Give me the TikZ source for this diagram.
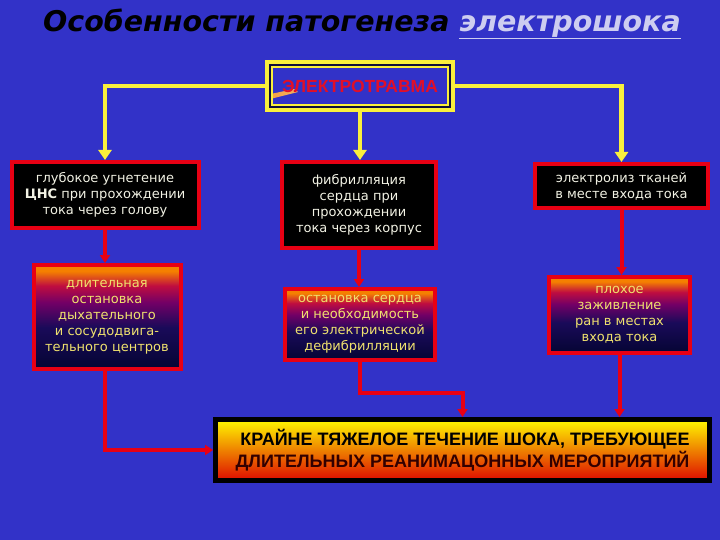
\documentclass[tikz,border=0pt]{standalone}
\usepackage{fontspec}
\setmainfont{DejaVu Sans}
\newfontfamily\headfont{Liberation Sans}
\usetikzlibrary{calc,arrows.meta}
\definecolor{bgblue}{RGB}{50,50,200}
\definecolor{boxred}{RGB}{232,0,20}
\definecolor{lineyellow}{RGB}{250,240,60}
\definecolor{palewhite}{RGB}{242,242,228}
\definecolor{paleyellow}{RGB}{240,226,110}
\definecolor{lavender}{RGB}{205,205,240}
\definecolor{shockred}{RGB}{222,10,0}
\definecolor{darkred}{RGB}{50,0,0}
\pgfdeclareverticalshading{sunset}{100bp}{rgb(0bp)=(0.02,0.02,0.2); rgb(25bp)=(0.02,0.02,0.2); rgb(45bp)=(0.1,0.04,0.35); rgb(57bp)=(0.45,0,0.4); rgb(65bp)=(0.75,0.05,0.25); rgb(72bp)=(0.96,0.5,0); rgb(100bp)=(0.96,0.55,0)}

\begin{document}
\begin{tikzpicture}[x=1pt,y=-1pt,
	darkbox/.style={draw=boxred,line width=4pt,fill=black,text=palewhite,align=center,inner sep=0pt,font=\fontsize{13}{16}\selectfont},
	gradbox/.style={draw=boxred,line width=4pt,shading=sunset,text=paleyellow,align=center,inner sep=0pt,font=\fontsize{13}{16}\selectfont},
	ylink/.style={draw=lineyellow,line width=4.5pt,-{Triangle[width=13pt,length=10pt]}},
	rlink/.style={draw=boxred,line width=4pt,-{Triangle[width=10pt,length=8pt]}}]
		%%%%% START %%%%%
		\fill[bgblue] (0,0) rectangle (720,540);
		
		\node[font=\fontsize{28.5}{32}\selectfont\bfseries\itshape] (title) at (362,24) {Особенности патогенеза \textcolor{lavender}{\underline{электрошока}}};
		
		% top box
		\node[draw=lineyellow,line width=8pt,fill=bgblue,minimum width=182pt,minimum height=44pt,text={rgb,255:red,225;green,15;blue,40},font=\headfont\bfseries\fontsize{17.5}{20}\selectfont,
			path picture={\shade[shift={(path picture bounding box.center)},left color=orange,right color=white!85!cyan] (-77,16) -- (12,-3) -- (16,0) -- (-60,19) -- cycle;}] (trauma) at (360,86) {ЭЛЕКТРОТРАВМА};
		\draw[line width=2pt,black!70!bgblue] ([shift={(5,5)}]trauma.north west) rectangle ([shift={(-5,-5)}]trauma.south east);
		
		% first row
		\node[darkbox,minimum width=187pt,minimum height=66pt] (cns) at (105,195) {глубокое угнетение\\\textbf{ЦНС} при прохождении\\тока через голову};
		\node[darkbox,minimum width=154pt,minimum height=86pt] (fibr) at (359,205) {фибрилляция\\сердца при\\прохождении\\тока через корпус};
		\node[darkbox,minimum width=173pt,minimum height=44pt] (lysis) at (621.5,186) {электролиз тканей\\в месте входа тока};
		
		% second row
		\node[gradbox,minimum width=147pt,minimum height=104pt] (breath) at (107,317) {длительная\\остановка\\дыхательного\\и сосудодвига-\\тельного центров};
		\node[gradbox,minimum width=150pt,minimum height=71pt] (arrest) at (360,324.5) {остановка сердца\\и необходимость\\его электрической\\дефибрилляции};
		\node[gradbox,minimum width=141pt,minimum height=76pt] (healing) at (619.5,315) {плохое\\заживление\\ран в местах\\входа тока};
		
		% result
		\node[draw=black,line width=5pt,top color=yellow!95!orange,middle color=orange,bottom color=shockred,minimum width=494pt,minimum height=61pt,align=center,inner sep=0pt,
			font=\headfont\bfseries\fontsize{18}{22}\selectfont] (shock) at (462.5,450) {\hspace*{5pt}КРАЙНЕ ТЯЖЕЛОЕ ТЕЧЕНИЕ ШОКА, ТРЕБУЮЩЕЕ\\\textcolor{darkred}{ДЛИТЕЛЬНЫХ РЕАНИМАЦОННЫХ МЕРОПРИЯТИЙ}};
		
		% yellow links
		\draw[ylink] (trauma.west) -| (cns.north);
		\draw[ylink] (trauma.south) -- (trauma.south |- fibr.north);
		\draw[ylink] (trauma.east) -| (lysis.north);
		
		% red links
		\draw[rlink] (cns.south) -- (cns.south |- breath.north);
		\draw[rlink] (fibr.south) -- (fibr.south |- arrest.north);
		\draw[rlink] (lysis.south) -- (lysis.south |- healing.north);
		\draw[rlink] (cns.south |- breath.south) |- (shock.west);
		\draw[rlink] (arrest.south) -- ++(0,31) -| (shock.north);
		\draw[rlink] (healing.south) -- (healing.south |- shock.north);
		%%%%% END %%%%%
	\end{tikzpicture}
\end{document}
